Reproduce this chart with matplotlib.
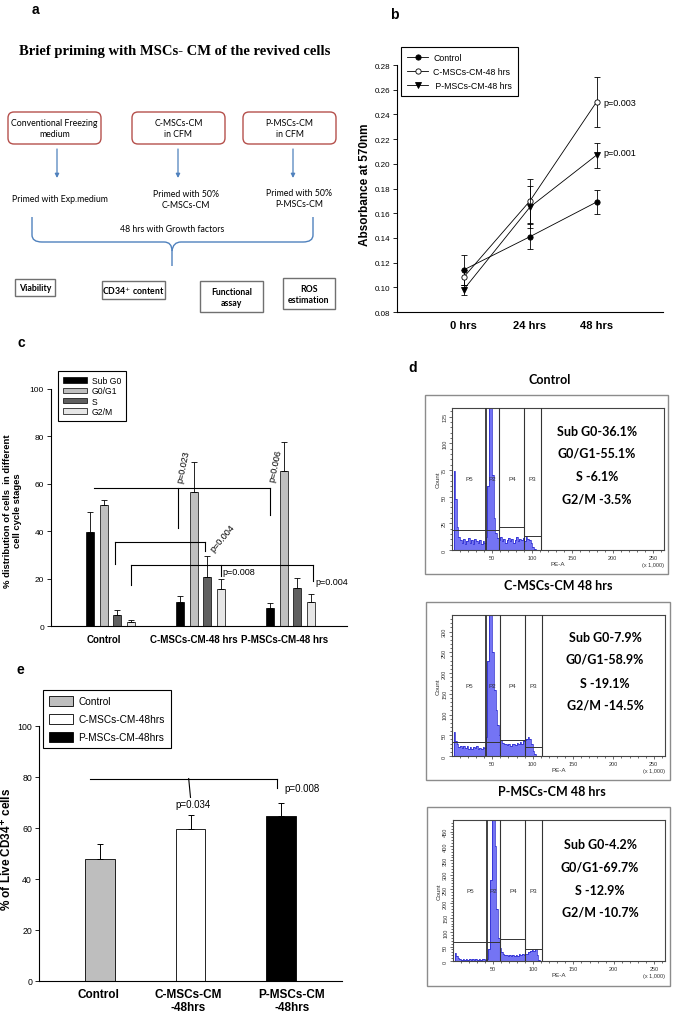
import numpy as np
import matplotlib
matplotlib.use("Agg")
import matplotlib.pyplot as plt
from matplotlib.patches import Rectangle, FancyBboxPatch, PathPatch
from matplotlib.path import Path

W, H = 674, 1020
SANS = 'Liberation Sans'
CAL = 'Lato'
SERIF = 'Liberation Serif'
plt.rcParams['font.family'] = [SANS, 'DejaVu Sans']

# ---------------- data ----------------
# panel b : absorbance at 570nm
time_labels = ['0 hrs', '24 hrs', '48 hrs']
abs_control = [0.114, 0.141, 0.169]
abs_control_err = [0.012, 0.010, 0.010]
abs_cmsc = [0.108, 0.170, 0.250]
abs_cmsc_err = [0.006, 0.018, 0.020]
abs_pmsc = [0.098, 0.165, 0.207]
abs_pmsc_err = [0.004, 0.017, 0.010]
abs_p_labels = ['p=0.003', 'p=0.001']

# panel c : cell cycle distribution
groups_c = ['Control', 'C-MSCs-CM-48 hrs', 'P-MSCs-CM-48 hrs']
phases = ['Sub G0', 'G0/G1', 'S', 'G2/M']
subg0_mean = [39.5, 10.0, 7.7]
subg0_err = [8.8, 2.5, 2.0]
g0g1_mean = [51.0, 56.7, 65.5]
g0g1_err = [2.2, 12.3, 12.0]
s_mean = [4.8, 20.5, 15.9]
s_err = [2.1, 9.2, 4.5]
g2m_mean = [1.5, 15.6, 10.3]
g2m_err = [1.2, 4.2, 3.0]

# panel e : live CD34+ cells
groups_e = ['Control', 'C-MSCs-CM\n-48hrs', 'P-MSCs-CM\n-48hrs']
legend_e = ['Control', 'C-MSCs-CM-48hrs', 'P-MSCs-CM-48hrs']
cd34_mean = [48.0, 59.8, 64.7]
cd34_err = [5.6, 5.2, 5.0]

# panel d : flow histograms (counts per 2-unit bin, from PE-A = 2)
ctrl_counts = [74, 48, 22, 12, 9, 7, 10, 6, 8, 11, 7, 9, 6, 10, 8, 7, 9, 6, 8, 7,
               12, 60, 150, 140, 70, 30, 16, 11, 9, 12, 8, 10, 7, 9, 11, 8, 10, 7,
               9, 12, 8, 10, 9, 11, 8, 12, 10, 9, 7, 3, 1, 0]
cmsc_counts = [58, 36, 28, 22, 25, 19, 24, 20, 23, 18, 22, 17, 21, 19, 23, 18, 20,
               17, 21, 19, 45, 230, 380, 360, 250, 160, 110, 75, 50, 38, 32, 28, 30,
               26, 29, 25, 28, 30, 26, 31, 28, 33, 30, 35, 38, 42, 45, 40, 30, 12, 5, 1]
pmsc_counts = [27, 18, 10, 7, 5, 8, 4, 6, 5, 7, 4, 6, 5, 8, 5, 6, 4, 7, 6, 5, 8,
               40, 280, 520, 540, 400, 180, 80, 45, 30, 24, 20, 22, 18, 21, 17, 20,
               18, 22, 19, 23, 20, 24, 22, 26, 25, 30, 34, 38, 36, 40, 20, 3]
gate_names = ['P5', 'P2', 'P4', 'P3']
gate_bounds = [1, 42, 59, 90, 111]
ctrl_gate_h = [19, 19, 21.5, 13]
cmsc_gate_h = [34, 34, 39, 22]
pmsc_gate_h = [67, 66, 78, 43]
ctrl_pct = ['Sub G0-36.1%', 'G0/G1-55.1%', 'S -6.1%', 'G2/M -3.5%']
cmsc_pct = ['Sub G0-7.9%', 'G0/G1-58.9%', 'S -19.1%', 'G2/M -14.5%']
pmsc_pct = ['Sub G0-4.2%', 'G0/G1-69.7%', 'S -12.9%', 'G2/M -10.7%']
flow_titles = ['Control', 'C-MSCs-CM 48 hrs', 'P-MSCs-CM 48 hrs']

fig = plt.figure(figsize=(W / 100, H / 100), dpi=100)


def add_ax(x0, y0, x1, y1):
    # axes from pixel box (top-left origin)
    return fig.add_axes([x0 / W, 1 - y1 / H, (x1 - x0) / W, (y1 - y0) / H])


def anchor(x, y):
    return (x / W, 1 - y / H)


# overlay in pixel coordinates for the flowchart, boxes and loose text
ov = fig.add_axes([0, 0, 1, 1])
ov.set_xlim(0, W)
ov.set_ylim(H, 0)
ov.axis('off')
ov.set_zorder(10)
ov.patch.set_alpha(0)

# ---------------- panel a ----------------
for lab, (x, y) in zip('abcde', [(35, 10), (394, 15), (21, 343), (413, 368), (20, 670)]):
    ov.text(x, y, lab, fontsize=10, fontweight='bold', ha='center', va='center')

ov.text(175, 52, 'Brief priming with MSCs- CM of the revived cells', family=SERIF,
        fontweight='bold', fontsize=10.5, ha='center', va='center')

red_boxes = [(8, 113, 101, 145, 'Conventional Freezing\nmedium'),
             (132, 113, 225, 145, 'C-MSCs-CM\nin CFM'),
             (243, 113, 336, 145, 'P-MSCs-CM\nin CFM')]
for x0, y0, x1, y1, txt in red_boxes:
    ov.add_patch(FancyBboxPatch((x0, y0), x1 - x0, y1 - y0,
                                boxstyle='round,pad=0,rounding_size=6',
                                fc='white', ec='#b5504c', lw=1.0))
    ov.text((x0 + x1) / 2, (y0 + y1) / 2, txt, family=CAL, fontsize=6.3,
            ha='center', va='center', linespacing=1.35)

for x in [57, 178, 293]:
    ov.annotate('', xy=(x, 179), xytext=(x, 150),
                arrowprops=dict(arrowstyle='-|>', color='#4f81bd', lw=0.9,
                                mutation_scale=6, shrinkA=0, shrinkB=0))

ov.text(60, 200, 'Primed with Exp.medium', family=CAL, fontsize=6.3, ha='center', va='center')
ov.text(186, 200, 'Primed with 50%\nC-MSCs-CM', family=CAL, fontsize=6.3, ha='center',
        va='center', linespacing=1.35)
ov.text(299, 199, 'Primed with 50%\nP-MSCs-CM', family=CAL, fontsize=6.3, ha='center',
        va='center', linespacing=1.35)
ov.text(172, 230, '48 hrs with Growth factors', family=CAL, fontsize=6.3, ha='center', va='center')

# curly brace
brace_l = Path([(32, 218), (32, 236), (32, 243), (42, 243), (164, 243), (172, 243), (172, 252), (172, 267)],
               [Path.MOVETO, Path.LINETO, Path.CURVE3, Path.CURVE3, Path.LINETO, Path.CURVE3, Path.CURVE3, Path.LINETO])
brace_r = Path([(313, 218), (313, 236), (313, 243), (303, 243), (181, 243), (173, 243), (172, 252)],
               [Path.MOVETO, Path.LINETO, Path.CURVE3, Path.CURVE3, Path.LINETO, Path.CURVE3, Path.CURVE3])
for p in [brace_l, brace_r]:
    ov.add_patch(PathPatch(p, fc='none', ec='#4f81bd', lw=1.0))

gray_boxes = [(15, 280, 55, 297, 'Viability'),
              (102, 282, 165, 300, 'CD34$^{+}$ content'),
              (200, 282, 263, 313, 'Functional\nassay'),
              (283, 279, 335, 310, 'ROS\nestimation')]
for x0, y0, x1, y1, txt in gray_boxes:
    ov.add_patch(Rectangle((x0, y0), x1 - x0, y1 - y0, fc='white', ec='#707070', lw=1.0))
    ov.text((x0 + x1) / 2, (y0 + y1) / 2 + 0.5, txt, family=CAL, fontweight='bold', fontsize=6.3,
            ha='center', va='center', linespacing=1.35)

# ---------------- panel b ----------------
axb = add_ax(397, 66, 663, 313)
xb = np.arange(len(time_labels))
series_b = [(abs_control, abs_control_err, 'o', 'black', 'Control'),
            (abs_cmsc, abs_cmsc_err, 'o', 'white', 'C-MSCs-CM-48 hrs'),
            (abs_pmsc, abs_pmsc_err, 'v', 'black', ' P-MSCs-CM-48 hrs')]
for vals, errs, mk, fc, lab in series_b:
    axb.errorbar(xb, vals, yerr=errs, fmt='none', ecolor='black', elinewidth=0.6,
                 capsize=2.5, capthick=0.6)
    axb.plot(xb, vals, color='black', lw=0.6, marker=mk, ms=3.8, mfc=fc, mec='black',
             mew=0.6, label=lab)
axb.set_xlim(-1, 3)
axb.set_ylim(0.08, 0.28)
yt = np.arange(0.08, 0.2801, 0.02)
axb.set_yticks(yt)
axb.set_yticklabels([f'{v:.2f}' for v in yt], fontsize=5.8)
axb.set_xticks(xb)
axb.set_xticklabels(time_labels, fontweight='bold', fontsize=8)
axb.tick_params(axis='x', length=0, pad=6)
axb.tick_params(axis='y', length=3, width=0.6, pad=2)
for s in ['top', 'right']:
    axb.spines[s].set_visible(False)
for s in ['left', 'bottom']:
    axb.spines[s].set_linewidth(0.8)
axb.set_ylabel('Absorbance at 570nm', fontweight='bold', fontsize=8.5)
axb.yaxis.set_label_coords(-0.098, 0.52)
axb.text(2.1, abs_cmsc[2], abs_p_labels[0], fontsize=6.5, va='center')
axb.text(2.1, abs_pmsc[2] + 0.002, abs_p_labels[1], fontsize=6.5, va='center')
lb = axb.legend(loc='upper left', bbox_to_anchor=anchor(401, 48), bbox_transform=fig.transFigure,
                borderaxespad=0, fancybox=False, edgecolor='black', framealpha=1, fontsize=6.3,
                handlelength=2.4, labelspacing=0.55, borderpad=0.7, handletextpad=0.6)
lb.get_frame().set_linewidth(0.8)

# ---------------- panel c ----------------
axc = add_ax(51, 390, 347, 627)
gx = np.arange(len(groups_c))
slot, bw = 0.15, 0.094
colors_c = ['black', '#c0c0c0', '#606060', '#e6e6e6']
means_c = [subg0_mean, g0g1_mean, s_mean, g2m_mean]
errs_c = [subg0_err, g0g1_err, s_err, g2m_err]


def cpos(g, i):
    return g + (i - 1.5) * slot


for i, (m, e, c, lab) in enumerate(zip(means_c, errs_c, colors_c, phases)):
    pos = gx + (i - 1.5) * slot
    axc.bar(pos, m, bw, color=c, edgecolor='black', lw=0.5, label=lab, zorder=2)
    axc.errorbar(pos, m, yerr=[np.zeros(len(m)), e], fmt='none', ecolor='black',
                 elinewidth=0.6, capsize=2, capthick=0.6, zorder=3)
axc.set_xlim(-0.661, 2.628)
axc.set_ylim(0, 100)
axc.set_yticks(np.arange(0, 101, 20))
axc.tick_params(axis='y', labelsize=6.0, length=3, width=0.6, pad=2)
axc.set_xticks(gx - 0.07)
axc.set_xticklabels(groups_c, fontweight='bold', fontsize=7)
axc.tick_params(axis='x', length=0, pad=6)
for s in ['top', 'right']:
    axc.spines[s].set_visible(False)
for s in ['left', 'bottom']:
    axc.spines[s].set_linewidth(0.8)
axc.set_ylabel('% distribution of cells  in different\ncell cycle stages', fontweight='bold',
               fontsize=6.8, linespacing=1.1)
axc.yaxis.set_label_coords(-0.098, 0.49)

lw_b = 0.8
# Sub G0 comparison
axc.plot([cpos(0, 0) + 0.045, cpos(2, 0)], [58.1, 58.1], color='black', lw=lw_b)
axc.plot([cpos(1, 0) - 0.02] * 2, [58.1, 41.4], color='black', lw=lw_b)
axc.plot([cpos(2, 0)] * 2, [58.1, 46.8], color='black', lw=lw_b)
axc.text(0.806, 67.5, 'p=0.023', rotation=78, fontsize=6.5, ha='center', va='center')
axc.text(1.828, 68, 'p=0.006', rotation=78, fontsize=6.5, ha='center', va='center')
# S comparison
axc.plot([cpos(0, 2) - 0.03, cpos(1, 2) - 0.02], [35.6, 35.6], color='black', lw=lw_b)
axc.plot([cpos(0, 2) - 0.03] * 2, [35.6, 26.2], color='black', lw=lw_b)
axc.plot([cpos(1, 2) - 0.02] * 2, [35.6, 31.5], color='black', lw=lw_b)
axc.text(1.25, 37.5, 'p=0.004', rotation=50, fontsize=6.5, ha='center', va='center')
# G2/M comparison
axc.plot([cpos(0, 3), cpos(2, 3) + 0.02], [25.7, 25.7], color='black', lw=lw_b)
axc.plot([cpos(0, 3)] * 2, [25.7, 17.1], color='black', lw=lw_b)
axc.plot([cpos(1, 3)] * 2, [25.7, 21.0], color='black', lw=lw_b)
axc.plot([cpos(2, 3) + 0.02] * 2, [25.7, 19.0], color='black', lw=lw_b)
axc.text(1.239, 22.8, 'p=0.008', fontsize=6.5, ha='left', va='center')
axc.text(2.272, 18.7, 'p=0.004', fontsize=6.5, ha='left', va='center')

lc = axc.legend(loc='upper left', bbox_to_anchor=anchor(58, 372), bbox_transform=fig.transFigure,
                borderaxespad=0, fancybox=False, edgecolor='black', framealpha=1, fontsize=6.2,
                handlelength=2.8, handleheight=0.6, labelspacing=0.15, borderpad=0.6,
                handletextpad=0.5)
lc.get_frame().set_linewidth(0.8)

# ---------------- panel e ----------------
axe = add_ax(39, 727, 342, 982)
ge = np.arange(len(groups_e))
colors_e = ['#bebebe', 'white', 'black']
bars_e = axe.bar(ge, cd34_mean, 0.33, color=colors_e, edgecolor='black', lw=0.6, zorder=2)
axe.errorbar(ge, cd34_mean, yerr=[np.zeros(3), cd34_err], fmt='none', ecolor='black',
             elinewidth=0.7, capsize=2.5, capthick=0.7, zorder=3)
axe.set_xlim(-0.674, 2.674)
axe.set_ylim(0, 100)
axe.set_yticks(np.arange(0, 101, 20))
axe.tick_params(axis='y', labelsize=6.3, length=3, width=0.6, pad=2)
axe.set_xticks(ge + np.array([-0.02, -0.03, 0.12]))
axe.set_xticklabels(groups_e, fontweight='bold', fontsize=8.5, linespacing=1.1)
axe.tick_params(axis='x', length=0, pad=5)
for s in ['top', 'right']:
    axe.spines[s].set_visible(False)
for s in ['left', 'bottom']:
    axe.spines[s].set_linewidth(0.8)
axe.set_ylabel(r'% of Live CD34$^{\mathbf{+}}$ cells', fontweight='bold', fontsize=8.5)
axe.yaxis.set_label_coords(-0.079, 0.52)
axe.plot([-0.11, 1.956], [79.4, 79.4], color='black', lw=0.8)
axe.plot([0.98, 1.0], [79.4, 72.0], color='black', lw=0.8)
axe.plot([1.956, 1.956], [79.4, 75.5], color='black', lw=0.8)
axe.text(1.03, 69.6, 'p=0.034', fontsize=7, ha='center', va='center')
axe.text(2.23, 75.5, 'p=0.008', fontsize=7, ha='center', va='center')
le = axe.legend(bars_e, legend_e, loc='upper left', bbox_to_anchor=anchor(43, 691),
                bbox_transform=fig.transFigure, borderaxespad=0, fancybox=False,
                edgecolor='black', framealpha=1, fontsize=7.3, handlelength=2.4,
                handleheight=1.1, labelspacing=0.75, borderpad=0.6, handletextpad=0.5)
le.get_frame().set_linewidth(0.8)

# ---------------- panel d ----------------
flow_sets = [
    dict(outer=(425, 396, 668, 575), inner=(452, 409, 664, 551), counts=ctrl_counts,
         ymax=133, ystep=25, yminor=5, gate_h=ctrl_gate_h, pct=ctrl_pct, cx=597,
         ys=[432, 454, 477, 500], title_xy=(550, 380)),
    dict(outer=(426, 603, 670, 781), inner=(452, 616, 665, 757), counts=cmsc_counts,
         ymax=340, ystep=50, yminor=10, gate_h=cmsc_gate_h, pct=cmsc_pct, cx=605,
         ys=[638, 660, 684, 706], title_xy=(558, 586)),
    dict(outer=(427, 808, 670, 987), inner=(453, 821, 665, 962), counts=pmsc_counts,
         ymax=490, ystep=50, yminor=10, gate_h=pmsc_gate_h, pct=pmsc_pct, cx=600,
         ys=[845, 868, 891, 913], title_xy=(552, 792)),
]
for k, fs in enumerate(flow_sets):
    x0, y0, x1, y1 = fs['outer']
    ov.add_patch(Rectangle((x0, y0), x1 - x0, y1 - y0, fc='none', ec='#8c8c8c', lw=1.0))
    ov.text(*fs['title_xy'], flow_titles[k], family=CAL, fontweight='bold', fontsize=9,
            ha='center', va='center')
    for txt, yy in zip(fs['pct'], fs['ys']):
        ov.text(fs['cx'], yy, txt, family=CAL, fontweight='bold', fontsize=9,
                ha='center', va='center')

    ax = add_ax(*fs['inner'])
    ax.patch.set_alpha(0)
    cnt = fs['counts']
    edges = 2 + 2 * np.arange(len(cnt) + 1)
    ax.stairs(cnt, edges, fill=True, color='#7474f4', zorder=1)
    ax.stairs(cnt, edges, color='#1f1fcc', lw=0.5, zorder=2)
    ax.set_xlim(0, 264)
    ax.set_ylim(0, fs['ymax'])
    for b in gate_bounds[1:]:
        ax.axvline(b, color='#333333', lw=0.8 if b != 42 else 1.3, zorder=3)
    for j, name in enumerate(gate_names):
        a, b = gate_bounds[j], gate_bounds[j + 1]
        ax.plot([a, b], [fs['gate_h'][j]] * 2, color='#333333', lw=0.7, zorder=3)
        ax.text((a + b) / 2, 0.5, name, transform=ax.get_xaxis_transform(), fontsize=4.5,
                ha='center', va='center', color='#333333', zorder=4)
    ax.set_xticks([50, 100, 150, 200, 250])
    ax.set_xticks(np.arange(10, 261, 10), minor=True)
    ax.set_yticks(np.arange(0, fs['ymax'], fs['ystep']))
    ax.set_yticks(np.arange(0, fs['ymax'], fs['yminor']), minor=True)
    ax.tick_params(which='both', direction='out', width=0.5, colors='#333333', labelsize=4,
                   pad=1)
    ax.tick_params(which='major', length=2.5)
    ax.tick_params(which='minor', length=1.3)
    for t in ax.get_yticklabels():
        t.set_rotation(90)
        t.set_va('center')
    for s in ax.spines.values():
        s.set_color('#444444')
        s.set_linewidth(0.8)
    ax.set_xlabel('PE-A', fontsize=4.5, labelpad=1, color='#333333')
    ax.set_ylabel('Count', fontsize=4.5, labelpad=1, color='#333333')
    ax.text(1.0, -0.1, '(x 1,000)', transform=ax.transAxes, fontsize=4, ha='right',
            va='center', color='#333333')

fig.savefig('out.png', dpi=100)
